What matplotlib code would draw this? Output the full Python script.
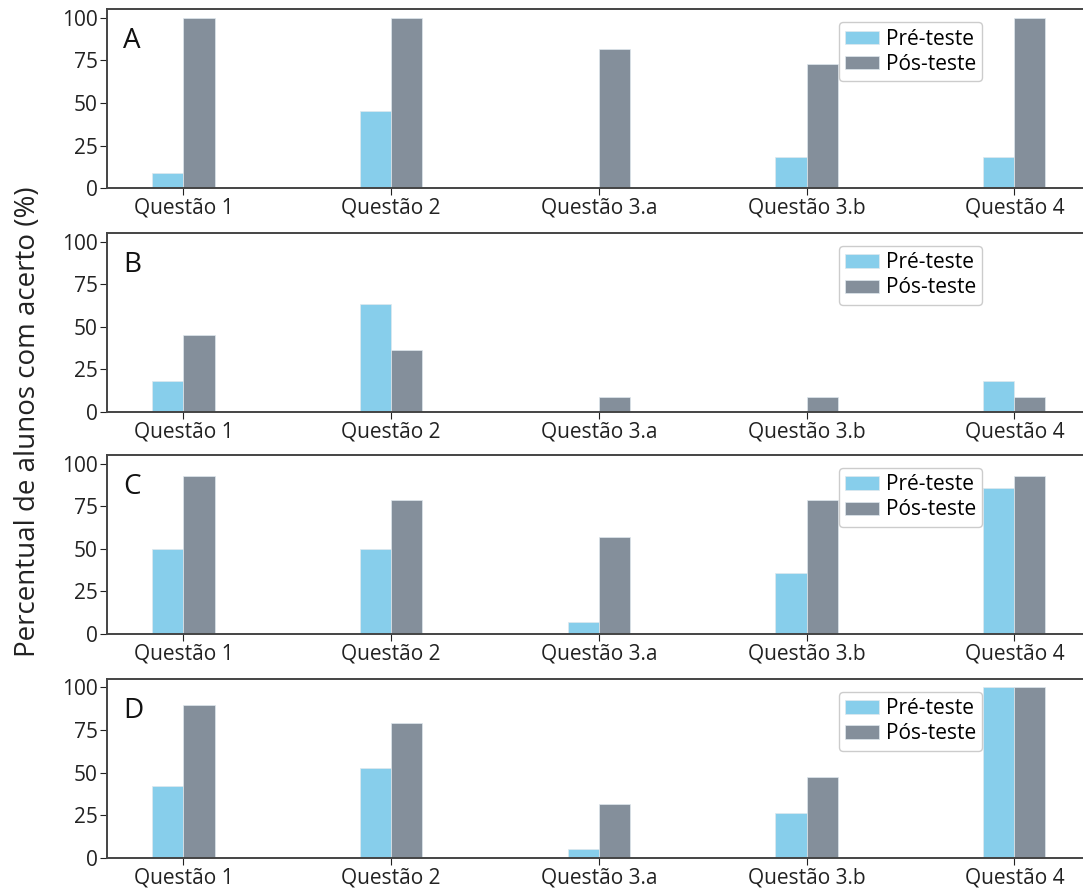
import numpy as np
import matplotlib.pyplot as plt

plt.rcParams['font.family'] = ['Open Sans', 'DejaVu Sans']

questoes = ['Questão 1', 'Questão 2', 'Questão 3.a', 'Questão 3.b', 'Questão 4']
paineis = ['A', 'B', 'C', 'D']

# percentual de acerto, pre e pos teste
pre_A = [9.09, 45.45, 0, 18.18, 18.18]
pos_A = [100, 100, 81.82, 72.73, 100]
pre_B = [18.18, 63.64, 0, 0, 18.18]
pos_B = [45.45, 36.36, 9.09, 9.09, 9.09]
pre_C = [50, 50, 7.14, 35.71, 85.71]
pos_C = [92.86, 78.57, 57.14, 78.57, 92.86]
pre_D = [42.11, 52.63, 5.26, 26.32, 100]
pos_D = [89.47, 78.95, 31.58, 47.37, 100]

pre_all = [pre_A, pre_B, pre_C, pre_D]
pos_all = [pos_A, pos_B, pos_C, pos_D]

cor_pre = '#87ceeb'
cor_pos = '#848f9b'
largura = 0.15

fig = plt.figure(figsize=(10.83, 8.88), dpi=100)

# posicoes dos paineis em fracao da figura
# (o eixo passa um pouco da borda direita, como no original recortado)
bottoms = [0.7880, 0.5360, 0.2860, 0.0338]
x = np.arange(len(questoes))

for i, letra in enumerate(paineis):
    ax = fig.add_axes([0.0991, bottoms[i], 0.9077, 0.2016])
    ax.bar(x - largura/2, pre_all[i], largura, color=cor_pre, label='Pré-teste',
           edgecolor='#dfe8ee', linewidth=0.5)
    ax.bar(x + largura/2, pos_all[i], largura, color=cor_pos, label='Pós-teste',
           edgecolor='#dfe8ee', linewidth=0.5)
    ax.set_xlim(-0.366, 4.366)
    ax.set_ylim(0, 105)
    ax.set_yticks([0, 25, 50, 75, 100])
    ax.set_xticks(x)
    ax.set_xticklabels(questoes)
    ax.tick_params(labelsize=15, colors='#222222', length=5, pad=2)
    ax.spines['right'].set_visible(False)
    for s in ['top', 'left', 'bottom']:
        ax.spines[s].set_color('#444444')
        ax.spines[s].set_linewidth(1.4)
    ax.text(0.016, 0.782, letra, transform=ax.transAxes, fontsize=20,
            va='baseline', ha='left', color='#111111')
    ax.legend(loc='upper right', bbox_to_anchor=(0.89, 0.927), fontsize=15,
              handlelength=1.65, handleheight=0.6, handletextpad=0.3,
              borderpad=0.3, labelspacing=0.2, borderaxespad=0,
              framealpha=1)

fig.text(0.026, 0.525, 'Percentual de alunos com acerto (%)', rotation=90,
         va='center', ha='center', fontsize=20, color='#222222')

fig.savefig('out.png', dpi=100)
